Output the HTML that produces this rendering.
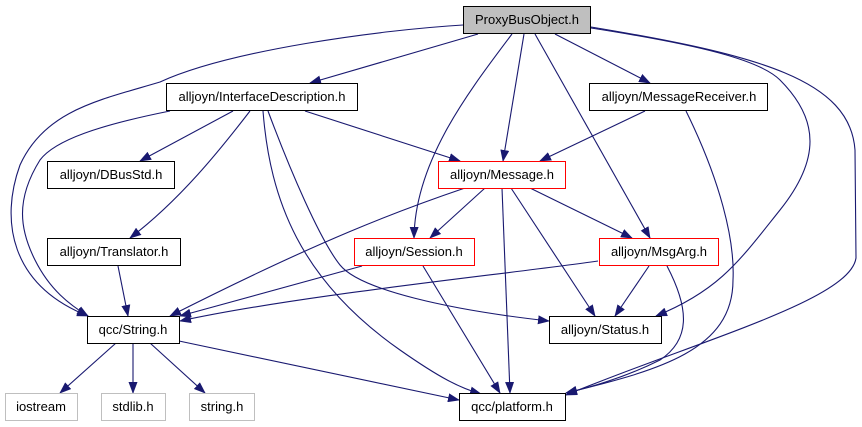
<!DOCTYPE html>
<html><head><meta charset="utf-8"><style>
html,body{margin:0;padding:0;background:#fff;}
svg{display:block;}
text{font-family:"Liberation Sans",sans-serif;font-size:13px;fill:#000;}
</style></head><body>
<svg width="862" height="427" viewBox="0 0 862 427" xmlns="http://www.w3.org/2000/svg">
<defs>
<marker id="a" markerWidth="12" markerHeight="9" refX="11" refY="4.5" orient="auto" markerUnits="userSpaceOnUse">
<path d="M0,0 L12,4.5 L0,9 Z" fill="#191970"/>
</marker>
</defs>
<g fill="none" stroke="#191970" stroke-width="1.1" marker-end="url(#a)">
<path d="M463,25 C380,30 230,50 160,82 C100,100 45,110 20,165 C0,220 10,285 88,316"/>
<path d="M478,34 L310,83"/>
<path d="M512,34 C470,90 415,160 414,238"/>
<path d="M524,34 L503,161"/>
<path d="M535,34 L650,238"/>
<path d="M555,34 L650,83"/>
<path d="M591,28 C700,45 760,60 780,80 C820,120 820,160 780,210 C740,260 720,290 656,316"/>
<path d="M591,27 C760,55 850,80 855,150 L856,258 C850,300 700,340 566,395"/>
<path d="M170,111 C100,125 55,140 40,160 C15,200 20,230 35,260 C50,290 70,305 88,316"/>
<path d="M233,111 L140,161"/>
<path d="M250,111 C220,150 180,200 130,238"/>
<path d="M305,111 L460,161"/>
<path d="M268,111 C290,170 320,240 340,265 C360,290 450,310 549,321"/>
<path d="M263,111 C270,200 300,280 400,350 C440,378 460,388 481,394"/>
<path d="M645,111 L540,161"/>
<path d="M686,111 C720,180 735,240 733,280 C733,350 660,370 566,393"/>
<path d="M465,188 C400,210 320,240 170,316"/>
<path d="M485,188 L430,238"/>
<path d="M502,188 L510,393"/>
<path d="M511,188 L595,316"/>
<path d="M530,188 L632,238"/>
<path d="M118,266 L128,316"/>
<path d="M362,266 L180,316"/>
<path d="M423,266 L500,393"/>
<path d="M598,261 C500,275 300,295 180,321"/>
<path d="M649,266 L615,316"/>
<path d="M667,266 C690,310 690,340 660,360 C630,375 600,385 566,393"/>
<path d="M116,343 L60,393"/>
<path d="M133,343 L133,393"/>
<path d="M150,343 L205,393"/>
<path d="M179,341 L459,400"/>
</g>
<g stroke-width="1">
<rect x="463.5" y="6.5" width="127" height="27" fill="#bfbfbf" stroke="#000"/>
<rect x="166.5" y="83.5" width="191" height="27" fill="#fff" stroke="#000"/>
<rect x="589.5" y="83.5" width="178" height="27" fill="#fff" stroke="#000"/>
<rect x="47.5" y="161.5" width="127" height="27" fill="#fff" stroke="#000"/>
<rect x="438.5" y="161.5" width="127" height="27" fill="#fff" stroke="#ff0000"/>
<rect x="47.5" y="238.5" width="133" height="27" fill="#fff" stroke="#000"/>
<rect x="354.5" y="238.5" width="120" height="27" fill="#fff" stroke="#ff0000"/>
<rect x="599.5" y="238.5" width="119" height="27" fill="#fff" stroke="#ff0000"/>
<rect x="87.5" y="316.5" width="92" height="27" fill="#fff" stroke="#000"/>
<rect x="549.5" y="316.5" width="112" height="27" fill="#fff" stroke="#000"/>
<rect x="5.5" y="393.5" width="72" height="27" fill="#fff" stroke="#bfbfbf"/>
<rect x="101.5" y="393.5" width="64" height="27" fill="#fff" stroke="#bfbfbf"/>
<rect x="189.5" y="393.5" width="65" height="27" fill="#fff" stroke="#bfbfbf"/>
<rect x="459.5" y="393.5" width="106" height="27" fill="#fff" stroke="#000"/>
</g>
<g text-anchor="middle">
<text x="527" y="24">ProxyBusObject.h</text>
<text x="262" y="101">alljoyn/InterfaceDescription.h</text>
<text x="679" y="101">alljoyn/MessageReceiver.h</text>
<text x="111" y="179">alljoyn/DBusStd.h</text>
<text x="502" y="179">alljoyn/Message.h</text>
<text x="114" y="256">alljoyn/Translator.h</text>
<text x="414" y="256">alljoyn/Session.h</text>
<text x="659" y="256">alljoyn/MsgArg.h</text>
<text x="133" y="334">qcc/String.h</text>
<text x="605" y="334">alljoyn/Status.h</text>
<text x="41" y="411">iostream</text>
<text x="133" y="411">stdlib.h</text>
<text x="222" y="411">string.h</text>
<text x="512" y="411">qcc/platform.h</text>
</g>
</svg>
</body></html>
